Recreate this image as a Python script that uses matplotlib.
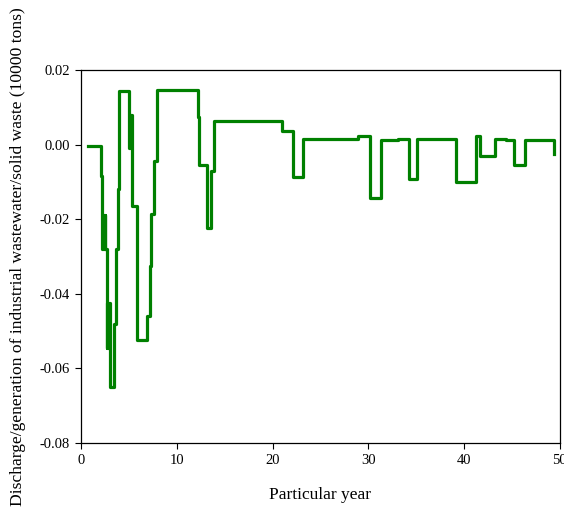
import matplotlib
matplotlib.use('Agg')
import matplotlib.pyplot as plt

plt.rcParams['font.family'] = ['Liberation Serif', 'DejaVu Serif']

# step change points (year) and the level held after each one
years = [0.76, 2.08, 2.22, 2.3, 2.38, 2.46, 2.55, 2.67, 2.75, 2.85, 2.93, 2.99,
         3.47, 3.61, 3.82, 3.92, 5.0, 5.1, 5.35, 5.8, 5.9, 6.94, 7.19, 7.36,
         7.64, 7.95, 12.2, 12.3, 13.16, 13.54, 13.85, 21.0, 22.1, 23.2, 28.9,
         30.2, 31.3, 33.05, 34.2, 35.07, 39.2, 41.2, 41.7, 43.2, 44.4, 45.2,
         46.35, 49.4]
ratio = [-0.0003, -0.0085, -0.028, -0.019, -0.028, -0.019, -0.028, -0.0545,
         -0.0425, -0.0545, -0.0425, -0.065, -0.048, -0.028, -0.012, 0.0143,
         -0.0008, 0.0078, -0.0165, -0.036, -0.0523, -0.046, -0.0326, -0.0185,
         -0.0043, 0.0147, 0.0074, -0.0054, -0.0223, -0.007, 0.0064, 0.0036,
         -0.0087, 0.0016, 0.0023, -0.0143, 0.0012, 0.0016, -0.0091, 0.0016,
         -0.010, 0.0024, -0.003, 0.0016, 0.0012, -0.0054, 0.0012, -0.0024]

xticks = [0, 10, 20, 30, 40, 50]
yticks = [-0.08, -0.06, -0.04, -0.02, 0.00, 0.02]

fig = plt.figure(figsize=(5.64, 5.07), dpi=100)
ax = fig.add_axes([0.1436, 0.126, 0.849, 0.736])

ax.plot(years, ratio, drawstyle='steps-post', color='#008000', lw=2.3)

ax.set_xlim(0, 50)
ax.set_ylim(-0.08, 0.02)
ax.set_xticks(xticks)
ax.set_yticks(yticks)
ax.set_yticklabels(['%.2f' % v for v in yticks])
ax.tick_params(direction='out', length=4, width=0.8, labelsize=10.5, pad=4)
for s in ax.spines.values():
    s.set_linewidth(0.9)

ax.set_xlabel('Particular year', fontsize=12.5, labelpad=14)
ax.set_ylabel('Discharge/generation of industrial wastewater/solid waste (10000 tons)',
              fontsize=12.6, labelpad=10)

fig.savefig('out.png', dpi=100)
